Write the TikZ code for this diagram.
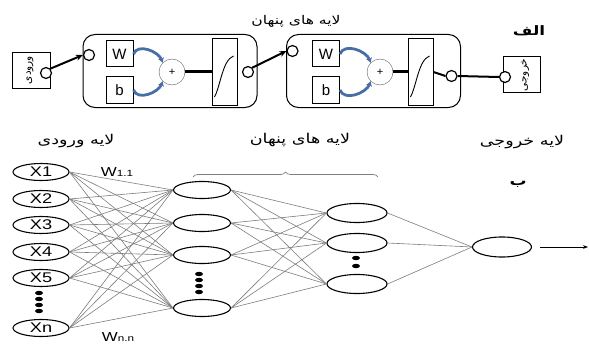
\documentclass[tikz,border=0pt]{standalone}
\usepackage{fontspec}
\setmainfont{Liberation Sans}
\newfontfamily\farsi[Script=Arabic]{DejaVu Sans}
\TeXXeTstate=1
\usetikzlibrary{shapes.geometric,decorations.pathreplacing,arrows.meta}
\definecolor{link_gray}{RGB}{125,125,125}
\definecolor{arc_blue}{RGB}{70,112,165}
\newcommand{\wide}[1]{\scalebox{1.3}[1]{#1}}
\newcommand{\fa}[1]{\wide{\farsi\beginR #1\endR}}

\tikzset{
  neuron/.style={draw, ellipse, line width=1.1pt, minimum width=56pt, minimum height=17pt, inner sep=0pt, font=\fontsize{14}{14}\selectfont},
  link/.style={link_gray, line width=0.6pt},
  port/.style={draw, circle, line width=1.2pt, fill=white, minimum size=11pt, inner sep=0pt},
  block/.style={draw, rounded corners=12pt, line width=1pt, minimum width=174pt, minimum height=73pt},
  wbox/.style={draw, line width=1pt, minimum width=27pt, minimum height=26pt, inner sep=0pt, font=\fontsize{15}{15}\selectfont},
  sumnode/.style={draw, circle, gray!70!black, text=black, minimum size=26pt, inner sep=0pt, font=\fontsize{11}{11}\selectfont},
  tfbox/.style={draw, line width=1pt, minimum width=25pt, minimum height=66pt},
  feed/.style={line width=2pt, -{Stealth[length=7pt, width=6pt]}},
  bluearc/.style={arc_blue, line width=2.8pt, -{Stealth[length=5pt, width=6pt]}},
  title/.style={font=\fontsize{12}{14}\selectfont},
  layertitle/.style={font=\fontsize{13.5}{15}\selectfont},
  boxword/.style={inner sep=0pt, rotate=90, font=\farsi\fontsize{10.5}{12}\selectfont}
}

\begin{document}
\begin{tikzpicture}[x=1pt, y=-1pt]
\useasboundingbox (0,0) rectangle (589,345);

% (alef) one hidden block after another
\node[title] (toptitle) at (296,21) {\fa{لایه های پنهان}};
\node[font=\farsi\bfseries\fontsize{13}{14}\selectfont] (alef) at (529,31) {\wide{الف}};

\node[draw, line width=1pt, minimum width=38pt, minimum height=35pt] (inbox) at (31,70.5) {};
\node[boxword] (intext) at (30,70) {ورودی};
\node[port] (inport) at (46,73) {};

\foreach \n/\bx/\wx/\px/\tx/\iy/\oy in {1/170/119.5/172/224.5/55/72, 2/373.5/326/380/420.5/51/76} {
  \node[block] (blk\n) at (\bx,71) {};
  \node[wbox] (w\n) at (\wx,54) {W};
  \node[wbox] (b\n) at (\wx,90) {b};
  \node[sumnode] (plus\n) at (\px,72) {+};
  \node[tfbox] (tf\n) at (\tx,72) {};
  \draw[line width=0.9pt] (\tx-10,97) .. controls (\tx-4,86) and (\tx-2,60) .. (\tx+9,56);
  \node[port] (pin\n) at (\bx-81,\iy) {};
  \node[port] (pout\n) at (\bx+78,\oy) {};
  \draw[line width=3pt] (plus\n.east) -- (tf\n.west);
  \draw[bluearc] (w\n.east) to[out=70, in=110] (plus\n.north west);
  \draw[bluearc] (b\n.east) to[out=-70, in=-110] (plus\n.south west);
}
\draw[line width=2pt] (tf2.east) -- (pout2.west);

\node[draw, line width=1pt, minimum width=37pt, minimum height=35pt] (outbox) at (521.5,74.5) {};
\node[boxword] (outtext) at (525,75) {خروجی};
\node[port] (outport) at (505,77) {};

\draw[feed] (inport.north east) -- (pin1.west);
\draw[feed] (pout1.north east) -- (pin2.west);
\draw[line width=2pt] (pout2.east) -- (outport.west);

% (be) the layers of the network
\node[layertitle] (intitle) at (76,141) {\fa{لایه ورودی}};
\node[layertitle] (hidtitle) at (300,140) {\fa{لایه های پنهان}};
\node[layertitle] (outtitle) at (522,142) {\fa{لایه خروجی}};
\node[font=\farsi\bfseries\fontsize{13}{14}\selectfont] (be) at (518,184) {\wide{ب}};
\draw[link_gray, line width=0.7pt, decorate, decoration={brace, amplitude=5pt}] (193,177) -- (378,177);

\foreach \i/\y/\t in {1/172/X1, 2/199/X2, 3/225/X3, 4/252/X4, 5/278/X5, 6/328/Xn}
  \node[neuron] (in\i) at (41,\y) {\wide{\t}};
\foreach \j/\y in {1/190, 2/223, 3/255, 4/308}
  \node[neuron, minimum width=57pt] (h\j) at (202,\y) {};
\foreach \k/\y in {1/213, 2/243, 3/284}
  \node[neuron, minimum width=60pt, minimum height=19pt] (g\k) at (357,\y) {};
\node[neuron, minimum width=59pt, minimum height=20pt] (out) at (502,247) {};

\foreach \i in {1,...,6}
  \foreach \j in {1,...,4}
    \draw[link] (in\i.east) -- (h\j.west);
\foreach \j in {1,...,4}
  \foreach \k in {1,2,3}
    \draw[link] (h\j.east) -- (g\k.west);
\foreach \k in {1,2,3}
  \draw[link] (g\k.east) -- (out.west);

\foreach \y in {293,299,305,311}
  \fill (39,\y) ellipse (4pt and 2.2pt);
\foreach \y in {274,280,286,292}
  \fill (199,\y) ellipse (4pt and 2.2pt);
\foreach \y in {258,266}
  \fill (356,\y) ellipse (4pt and 2.2pt);

\node[font=\fontsize{13}{13}\selectfont] (w11) at (117,172) {\wide{W{\fontsize{9}{9}\selectfont 1.1}}};
\node[font=\fontsize{13}{13}\selectfont] (wnn) at (118,337) {\wide{W{\fontsize{9}{9}\selectfont n.n}}};

\coordinate (outend) at (588,247);
\draw[line width=0.8pt, -{Stealth[length=5pt]}] ([xshift=8pt]out.east) -- (outend);
\end{tikzpicture}
\end{document}
